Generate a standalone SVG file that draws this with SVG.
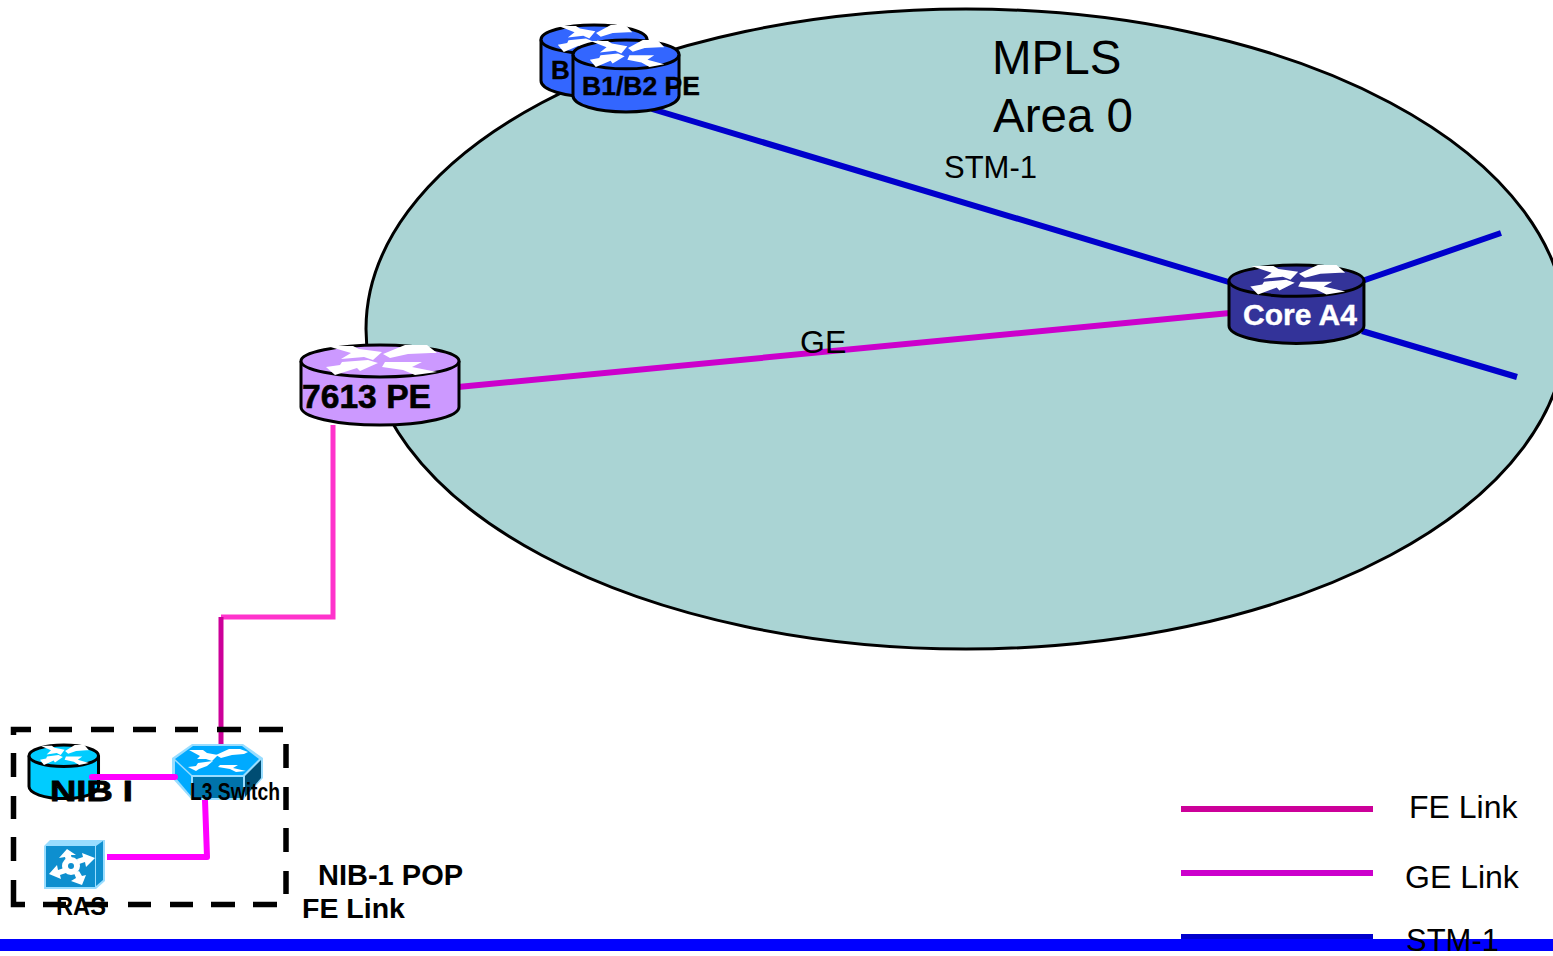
<svg xmlns="http://www.w3.org/2000/svg" xmlns:xlink="http://www.w3.org/1999/xlink" width="1553" height="956" viewBox="0 0 1553 956">
<style>
text{font-family:"Liberation Sans",Arial,sans-serif;fill:#000}
.b{font-weight:700}
.r{fill:currentColor;stroke:#000;stroke-width:3}
.arrow{fill:#fff;stroke:none}
.fe{stroke:#ff33cc;stroke-width:5;fill:none}
.fe2{stroke:#cc0099;stroke-width:5;fill:none}
.ge{stroke:#cc00cc;stroke-width:6;fill:none}
.stm{stroke:#0000cc;stroke-width:6;fill:none}
.mg{stroke:#ff00ff;stroke-width:6;fill:none;stroke-linejoin:round;stroke-linecap:round}
</style>
<defs>
<g id="router">
<path class="r" vector-effect="non-scaling-stroke" d="M0 16V62C0 72 35 80 79 80S158 72 158 62V16" />
<ellipse class="r" vector-effect="non-scaling-stroke" cx="79" cy="16" rx="79" ry="16"/>
<path class="arrow" d="M26 1H52L58 4L81 7L72 15L63 12L40 14L50 8Z"/>
<path class="arrow" d="M25 22L39 20L41 17L67 15L77 18L59 26L56 23L34 30Z"/>
<path class="arrow" d="M136 8L126 0H104L82 9L89 13L107 9L130 8Z"/>
<path class="arrow" d="M81 22L84 17H121L111 22L136 27L114 30L102 25Z"/>
</g>
</defs>
<rect width="1553" height="956" fill="#fff"/>
<ellipse id="area0" cx="966" cy="329" rx="600" ry="320" fill="#aad4d4" stroke="#000" stroke-width="3"/>
<g id="connectors">
<path class="stm" d="M652 109L1232 283M1362 281L1501 233M1362 331L1517 377"/>
<path class="ge" d="M458 387L1230 313"/>
<path class="fe" d="M333 425V617H221"/>
<path class="fe2" d="M221 617V744"/>
<path class="mg" d="M205 800L207 857H107" style="stroke-linecap:butt"/>
</g>
<text x="992" y="74" font-size="47.5">MPLS</text>
<text x="993" y="132" font-size="47.5">Area 0</text>
<text x="944" y="178" font-size="31">STM-1</text>
<text x="800" y="353" font-size="32">GE</text>
<g id="node-b-back" color="#3366ff">
<use xlink:href="#router" href="#router" transform="translate(541 25) scale(.671 .9)"/>
<text class="b" x="551" y="79" font-size="26" stroke="#000" stroke-width=".4">B</text>
</g>
<g id="node-b1b2" color="#3366ff">
<use xlink:href="#router" href="#router" transform="translate(573 40) scale(.671 .9)"/>
<text class="b" x="582" y="95" font-size="26.5" stroke="#000" stroke-width=".4">B1/B2 PE</text>
</g>
<g id="node-7613" color="#cc99ff">
<use xlink:href="#router" href="#router" transform="translate(301 345)"/>
<text class="b" x="302" y="408" font-size="33" stroke="#000" stroke-width=".6" textLength="129" lengthAdjust="spacingAndGlyphs">7613 PE</text>
</g>
<g id="node-core" color="#333399">
<use xlink:href="#router" href="#router" transform="translate(1229 265) scale(.854 .98)"/>
<text class="b" x="1243" y="325" font-size="29.7" textLength="114" lengthAdjust="spacingAndGlyphs" style="fill:#fff;stroke:#fff;stroke-width:.4">Core A4</text>
</g>
<path id="pop-box" fill="none" stroke="#000" stroke-width="5.5" d="M31 729.5H13.5V735M49 729.5H72M91 729.5H114M133 729.5H156M175 729.5H198M217 729.5H241M259 729.5H283M286 744V768M286 787V810M286 828V852M286 871V894M13.5 753V777M13.5 796V819M13.5 837V861M13.5 880V904.5H25M43 904.5H66M84 904.5H108M128 904.5H151M170 904.5H193M211 904.5H235M253 904.5H277"/>
<g id="node-nib" color="#00ccff">
<use xlink:href="#router" href="#router" transform="translate(29 745) scale(.44 .67)"/>
</g>
<g id="node-l3">
<polygon points="192,744 243,744 263,758 263,778 243,800 192,800 172,778 172,758" fill="#99ddff"/>
<polygon points="193,746 242,746 259,759 243,775 192,775 175,759" fill="#00aaff"/>
<polygon points="193,777 243,777 243,798 193,798" fill="#0073aa"/>
<polygon points="245,776 261,760 261,778 245,797" fill="#004d73"/>
<polygon points="175,761 191,776 191,796 175,777" fill="#00aaff"/>
<path class="arrow" d="M189 750H203L207 753L218 755L212 761L206 759H197L200 756Z"/>
<path class="arrow" d="M188 767L196 766L198 763L213 761L207 766L199 769L196 771Z"/>
<path class="arrow" d="M248 752L240 749H229L216 755L221 758L232 755L244 754Z"/>
<path class="arrow" d="M246 771L233 768L238 765H220L218 767L230 769L236 772Z"/>
</g>
<path class="mg" d="M92 777H175"/>
<g id="node-ras">
<polygon points="44,846 50,840 105,840 105,881 96,889 44,889" fill="#99ddff"/>
<rect x="46" y="846" width="49" height="41" fill="#0e8fcf"/>
<polygon points="96,846 103,841 103,880 96,886" fill="#0e8fcf"/>
<circle cx="71" cy="866" r="9" fill="#fff"/>
<circle cx="71" cy="866" r="3" fill="#0e8fcf"/>
<path class="arrow" d="M67 849L76 855L71 855L72 860L66 861L65 857L59 858Z"/>
<path class="arrow" d="M95 858L86 867L85 862L79 864L77 859L83 857L82 853Z"/>
<path class="arrow" d="M49 874L57 865L58 870L64 868L66 873L60 875L61 879Z"/>
<path class="arrow" d="M82 885L71 881L76 878L74 873L79 871L82 876L86 875Z"/>
</g>
<text class="b" x="50" y="801" font-size="30" textLength="83" lengthAdjust="spacingAndGlyphs" stroke="#000" stroke-width=".8">NIB I</text>
<text class="b" x="190" y="800" font-size="23" textLength="90" lengthAdjust="spacingAndGlyphs">L3 Switch</text>
<text class="b" x="56" y="915" font-size="25" textLength="50" lengthAdjust="spacingAndGlyphs">RAS</text>
<text class="b" x="318" y="885" font-size="29">NIB-1 POP</text>
<text class="b" x="302" y="918" font-size="28.5">FE Link</text>
<g id="legend">
<rect x="1181" y="806" width="192" height="6" fill="#cc0099"/>
<rect x="1181" y="870" width="192" height="6" fill="#cc00cc"/>
<rect x="1181" y="934" width="192" height="6" fill="#0000cc"/>
<rect id="bottom-bar" x="0" y="939" width="1553" height="12" fill="#0000ff"/>
<text x="1409" y="818" font-size="32">FE Link</text>
<text x="1405" y="888" font-size="32">GE Link</text>
<text x="1406" y="951" font-size="31">STM-1</text>
</g>
</svg>
